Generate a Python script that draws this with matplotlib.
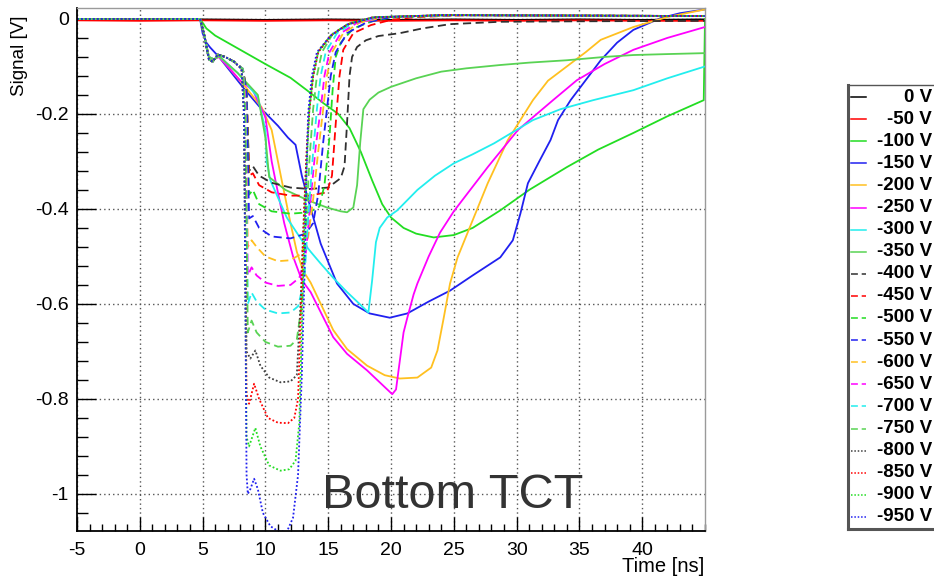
import matplotlib
matplotlib.use("Agg")
import matplotlib.pyplot as plt
from matplotlib.ticker import MultipleLocator

plt.rcParams['font.family'] = ['Liberation Sans', 'DejaVu Sans']
plt.rcParams['axes.unicode_minus'] = False

W, H = 934, 580

# Bias voltages and their line styles
labels = ["0 V", "-50 V", "-100 V", "-150 V", "-200 V", "-250 V", "-300 V", "-350 V",
          "-400 V", "-450 V", "-500 V", "-550 V", "-600 V", "-650 V", "-700 V", "-750 V",
          "-800 V", "-850 V", "-900 V", "-950 V"]
colors = ["#000000", "#ff0000", "#22dd22", "#2020f0", "#ffc020", "#ff00ff", "#22eeee", "#59d354",
          "#303030", "#ff0000", "#22dd22", "#2020f0", "#ffc020", "#ff00ff", "#22eeee", "#59d354",
          "#404040", "#ff0000", "#22dd22", "#2020f0"]
styles = ["solid"] * 8 + ["dashed"] * 8 + ["dotted"] * 4

# Waveforms: (time [ns], signal [V])
w_0 = [(-5, -0.001), (0, -0.002), (5, -0.001), (10, -0.002), (15, -0.001), (20, -0.002),
       (25, -0.001), (30, -0.002), (35, -0.001), (40, -0.002), (45, -0.001)]
w_50 = [(-5, -0.003), (0, -0.004), (5, -0.003), (10, -0.004), (15, -0.003), (20, -0.004),
        (25, -0.003), (30, -0.004), (35, -0.003), (40, -0.004), (45, -0.004)]
w_100 = [(-5, 0.0), (4.8, 0.0), (5.3, -0.02), (6, -0.035), (8, -0.065), (10, -0.095), (12, -0.124),
         (13.3, -0.15), (14.6, -0.177), (15.8, -0.2), (16.7, -0.23), (17.6, -0.28), (18.5, -0.34),
         (19.3, -0.39), (20, -0.418), (21, -0.44), (22, -0.452), (23.4, -0.46), (25, -0.455),
         (26.5, -0.44), (28.7, -0.403), (31, -0.36), (34, -0.312), (36.5, -0.275), (39.3, -0.24),
         (42, -0.205), (44.9, -0.171), (45, 0.0)]
w_150 = [(-5, 0.0), (4.8, 0.0), (5.0, -0.03), (5.3, -0.05), (5.6, -0.06), (6.3, -0.08), (7.2, -0.11),
         (8.4, -0.15), (9.7, -0.19), (11, -0.225), (11.8, -0.25), (12.4, -0.265), (12.9, -0.33),
         (13.3, -0.37), (14.4, -0.473), (15.7, -0.557), (17, -0.6), (18.3, -0.62), (19.9, -0.629),
         (21.3, -0.62), (23, -0.595), (24.7, -0.572), (26.5, -0.54), (28.7, -0.502), (29.7, -0.466),
         (30.3, -0.41), (30.9, -0.346), (31.8, -0.3), (32.7, -0.255), (33.3, -0.213), (34.3, -0.171),
         (36.7, -0.087), (38, -0.05), (39.3, -0.023), (41.5, 0.002), (43, 0.012), (45, 0.02)]
w_200 = [(-5, 0.0), (4.8, 0.0), (5.1, -0.03), (5.5, -0.08), (5.9, -0.085), (6.3, -0.08), (7, -0.1),
         (8.4, -0.143), (9.7, -0.186), (10.5, -0.234), (11, -0.3), (11.3, -0.34), (12, -0.43),
         (12.5, -0.49), (13, -0.53), (13.6, -0.555), (15.4, -0.655), (16.5, -0.695), (18.1, -0.73),
         (19.5, -0.75), (20.7, -0.757), (22.1, -0.755), (23.2, -0.734), (23.7, -0.698), (24.2, -0.629),
         (24.7, -0.557), (25.3, -0.502), (26.1, -0.45), (27.7, -0.346), (29.3, -0.255), (31.3, -0.171),
         (32.5, -0.13), (34, -0.1), (35.5, -0.07), (36.7, -0.044), (39.3, -0.017), (42, 0.004),
         (45, 0.02)]
w_250 = [(-5, 0.0), (4.8, 0.0), (5.1, -0.03), (5.5, -0.08), (5.9, -0.085), (6.3, -0.08), (7, -0.1),
         (8, -0.13), (9, -0.15), (10, -0.207), (10.5, -0.3), (10.8, -0.34), (11.5, -0.43),
         (12.2, -0.5), (12.9, -0.55), (13.6, -0.575), (15.4, -0.67), (16.5, -0.705), (18.1, -0.74),
         (19.5, -0.775), (20.1, -0.79), (20.4, -0.78), (20.7, -0.72), (21.0, -0.66), (21.3, -0.629),
         (21.8, -0.58), (22.1, -0.557), (23, -0.5), (23.9, -0.45), (25, -0.405), (26.1, -0.367),
         (27.7, -0.312), (30.1, -0.234), (32.9, -0.171), (34.8, -0.129), (37, -0.095), (39.3, -0.065),
         (42, -0.04), (45, -0.017)]
w_300 = [(-5, 0.0), (4.8, 0.0), (5.1, -0.03), (5.5, -0.08), (5.9, -0.085), (6.3, -0.078), (7, -0.095),
         (7.8, -0.114), (9.4, -0.165), (10, -0.234), (10.1, -0.3), (10.4, -0.34), (11.7, -0.418),
         (13, -0.47), (13.6, -0.49), (14.4, -0.515), (15.4, -0.545), (16.5, -0.575), (17.5, -0.6),
         (18.2, -0.618), (18.5, -0.55), (18.8, -0.47), (19.1, -0.44), (19.7, -0.418), (20.5, -0.403),
         (22.1, -0.36), (23.5, -0.33), (25, -0.304), (26.5, -0.285), (28.2, -0.262), (31.3, -0.213),
         (33.5, -0.19), (36.1, -0.171), (39.3, -0.15), (42, -0.125), (45, -0.1)]
w_350 = [(-5, 0.0), (4.8, 0.0), (5.1, -0.03), (5.5, -0.08), (5.9, -0.085), (6.3, -0.078), (7, -0.095),
         (7.8, -0.114), (9.4, -0.16), (10.0, -0.25), (10.3, -0.333), (11.6, -0.36), (13.4, -0.382),
         (14.9, -0.397), (16, -0.405), (16.5, -0.407), (17, -0.397), (17.3, -0.35), (17.55, -0.26),
         (17.8, -0.19), (18.3, -0.17), (19, -0.155), (20, -0.143), (22, -0.125), (24, -0.111),
         (26, -0.104), (28.7, -0.097), (31, -0.092), (34, -0.087), (37, -0.08), (39.3, -0.076),
         (42, -0.074), (45, -0.072)]
w_400 = [(-5, 0.0), (4.8, 0.0), (5.1, -0.03), (5.5, -0.085), (5.8, -0.09), (6.2, -0.075), (6.8, -0.08),
         (7.5, -0.09), (8.2, -0.105), (8.5, -0.15), (8.7, -0.32), (9.0, -0.31), (9.5, -0.33),
         (10.5, -0.345), (12, -0.355), (13.5, -0.358), (15, -0.355), (16.0, -0.335), (16.3, -0.31),
         (16.5, -0.22), (16.7, -0.12), (16.9, -0.08), (17.3, -0.059), (18, -0.045), (19, -0.036),
         (20.7, -0.03), (22.5, -0.02), (24.7, -0.011), (28.7, -0.006), (35, -0.005), (45, -0.004)]
w_450 = [(-5, 0.0), (4.8, 0.0), (5.1, -0.03), (5.5, -0.085), (5.8, -0.09), (6.2, -0.075), (6.8, -0.08),
         (7.5, -0.09), (8.2, -0.105), (8.5, -0.15), (8.7, -0.33), (9.0, -0.325), (9.5, -0.35),
         (10.5, -0.365), (12, -0.372), (13.5, -0.372), (14.9, -0.365), (15.3, -0.33), (15.6, -0.22),
         (15.9, -0.12), (16.2, -0.065), (17, -0.03), (18.4, -0.013), (20, -0.002), (22, 0.004),
         (26, 0.008), (35, 0.007), (45, 0.006)]
w_500 = [(-5, 0.0), (4.8, 0.0), (5.1, -0.03), (5.5, -0.085), (5.8, -0.09), (6.2, -0.075), (6.8, -0.08),
         (7.5, -0.09), (8.2, -0.105), (8.5, -0.15), (8.7, -0.37), (9.0, -0.36), (9.5, -0.39),
         (10.5, -0.405), (12, -0.41), (13.5, -0.407), (14.3, -0.395), (14.7, -0.35), (15.1, -0.25),
         (15.35, -0.15), (15.6, -0.08), (16, -0.05), (17, -0.02), (18.5, -0.005), (20, 0.003),
         (25, 0.008), (35, 0.007), (45, 0.006)]
w_550 = [(-5, 0.0), (4.8, 0.0), (5.1, -0.03), (5.5, -0.085), (5.8, -0.09), (6.2, -0.075), (6.8, -0.08),
         (7.5, -0.09), (8.2, -0.105), (8.5, -0.16), (8.7, -0.42), (9.0, -0.415), (9.5, -0.44),
         (10.5, -0.458), (12, -0.462), (13.2, -0.452), (13.8, -0.43), (14.2, -0.37), (14.6, -0.26),
         (14.9, -0.19), (15.2, -0.12), (15.6, -0.07), (16.5, -0.03), (18, -0.008), (20, 0.004),
         (25, 0.008), (35, 0.007), (45, 0.006)]
w_600 = [(-5, 0.0), (4.8, 0.0), (5.1, -0.03), (5.5, -0.085), (5.8, -0.09), (6.2, -0.075), (6.8, -0.08),
         (7.5, -0.09), (8.2, -0.105), (8.4, -0.17), (8.6, -0.48), (8.9, -0.466), (9.3, -0.48),
         (10, -0.5), (11, -0.51), (12, -0.508), (12.8, -0.495), (13.4, -0.46), (13.8, -0.38),
         (14.2, -0.28), (14.6, -0.19), (14.9, -0.12), (15.3, -0.07), (16.2, -0.03), (17.5, -0.008),
         (19.5, 0.004), (25, 0.008), (35, 0.007), (45, 0.006)]
w_650 = [(-5, 0.0), (4.8, 0.0), (5.1, -0.03), (5.5, -0.085), (5.8, -0.09), (6.2, -0.075), (6.8, -0.08),
         (7.5, -0.09), (8.2, -0.105), (8.4, -0.18), (8.6, -0.54), (8.9, -0.523), (9.3, -0.54),
         (10, -0.555), (11, -0.562), (12, -0.56), (12.7, -0.545), (13.2, -0.5), (13.6, -0.38),
         (14.0, -0.27), (14.4, -0.19), (14.7, -0.12), (15.1, -0.07), (16, -0.03), (17.3, -0.008),
         (19.3, 0.004), (25, 0.008), (35, 0.007), (45, 0.006)]
w_700 = [(-5, 0.0), (4.8, 0.0), (5.1, -0.03), (5.5, -0.085), (5.8, -0.09), (6.2, -0.075), (6.8, -0.08),
         (7.5, -0.09), (8.2, -0.105), (8.4, -0.2), (8.6, -0.6), (8.9, -0.576), (9.3, -0.595),
         (10, -0.612), (11, -0.62), (12, -0.618), (12.6, -0.605), (13.1, -0.55), (13.4, -0.42),
         (13.8, -0.28), (14.1, -0.19), (14.4, -0.12), (14.8, -0.07), (15.7, -0.03), (17, -0.008),
         (19, 0.004), (25, 0.008), (35, 0.007), (45, 0.006)]
w_750 = [(-5, 0.0), (4.8, 0.0), (5.1, -0.03), (5.5, -0.085), (5.8, -0.09), (6.2, -0.075), (6.8, -0.08),
         (7.5, -0.09), (8.2, -0.105), (8.4, -0.2), (8.6, -0.66), (8.9, -0.635), (9.3, -0.66),
         (10, -0.68), (11, -0.69), (12, -0.688), (12.5, -0.675), (12.9, -0.6), (13.2, -0.45),
         (13.5, -0.3), (13.8, -0.19), (14.1, -0.12), (14.5, -0.07), (15.4, -0.03), (16.8, -0.008),
         (18.8, 0.004), (25, 0.008), (35, 0.007), (45, 0.006)]
w_800 = [(-5, 0.0), (4.8, 0.0), (5.1, -0.03), (5.5, -0.085), (5.8, -0.09), (6.2, -0.075), (6.8, -0.08),
         (7.5, -0.09), (8.1, -0.105), (8.3, -0.2), (8.5, -0.7), (8.8, -0.715), (9.2, -0.698),
         (9.6, -0.73), (10.3, -0.755), (11.2, -0.765), (12, -0.763), (12.5, -0.75), (12.8, -0.6),
         (13.0, -0.45), (13.25, -0.3), (13.5, -0.19), (13.8, -0.12), (14.2, -0.07), (15.2, -0.035),
         (16.5, -0.012), (18.5, 0.003), (24, 0.008), (35, 0.007), (45, 0.006)]
w_850 = [(-5, 0.0), (4.8, 0.0), (5.1, -0.03), (5.5, -0.085), (5.8, -0.09), (6.2, -0.075), (6.8, -0.08),
         (7.5, -0.09), (8.1, -0.105), (8.3, -0.2), (8.5, -0.79), (8.7, -0.81), (9.1, -0.768),
         (9.5, -0.8), (10.2, -0.84), (11, -0.85), (11.8, -0.851), (12.3, -0.84), (12.6, -0.8),
         (12.85, -0.6), (13.1, -0.4), (13.3, -0.27), (13.5, -0.19), (13.8, -0.12), (14.2, -0.07),
         (15.2, -0.035), (16.5, -0.012), (18.5, 0.003), (24, 0.008), (35, 0.007), (45, 0.006)]
w_900 = [(-5, 0.0), (4.8, 0.0), (5.1, -0.03), (5.5, -0.085), (5.8, -0.09), (6.2, -0.075), (6.8, -0.08),
         (7.5, -0.09), (8.1, -0.105), (8.3, -0.2), (8.5, -0.88), (8.7, -0.9), (9.2, -0.861),
         (9.6, -0.9), (10.3, -0.94), (11.2, -0.951), (11.9, -0.948), (12.4, -0.93), (12.7, -0.85),
         (12.9, -0.65), (13.1, -0.45), (13.3, -0.3), (13.5, -0.19), (13.8, -0.12), (14.2, -0.07),
         (15.2, -0.035), (16.5, -0.012), (18.5, 0.003), (24, 0.008), (35, 0.007), (45, 0.006)]
w_950 = [(-5, 0.0), (4.8, 0.0), (5.1, -0.03), (5.5, -0.085), (5.8, -0.09), (6.2, -0.075), (6.8, -0.08),
         (7.5, -0.09), (8.1, -0.105), (8.3, -0.2), (8.5, -0.96), (8.6, -1.0), (8.8, -0.99),
         (9.1, -0.968), (9.4, -0.99), (9.8, -1.04), (10.4, -1.068), (11, -1.078), (11.7, -1.08),
         (12.2, -1.05), (12.6, -0.96), (12.9, -0.75), (13.1, -0.55), (13.25, -0.35), (13.4, -0.2),
         (13.7, -0.12), (14.1, -0.07), (15.2, -0.035), (16.5, -0.012), (18.5, 0.003), (24, 0.008),
         (35, 0.007), (45, 0.006)]

waveforms = [w_0, w_50, w_100, w_150, w_200, w_250, w_300, w_350,
             w_400, w_450, w_500, w_550, w_600, w_650, w_700, w_750,
             w_800, w_850, w_900, w_950]

x_ticks = [-5, 0, 5, 10, 15, 20, 25, 30, 35, 40]
y_ticks = [0, -0.2, -0.4, -0.6, -0.8, -1]

dash = {"solid": "-", "dashed": (0, (4.5, 2.5)), "dotted": (0, (1.0, 1.2))}

fig = plt.figure(figsize=(W / 100, H / 100), dpi=100)
ax = fig.add_axes([77 / W, (H - 531) / H, (705 - 77) / W, (531 - 8) / H])

for w, c, s in zip(waveforms, colors, styles):
    t = [p[0] for p in w]
    v = [p[1] for p in w]
    ax.plot(t, v, color=c, linestyle=dash[s], linewidth=1.3)

ax.set_xlim(-5, 45)
ax.set_ylim(-1.078, 0.023)
ax.set_xticks(x_ticks)
ax.set_xticklabels([str(x) for x in x_ticks])
ax.set_yticks(y_ticks)
ax.set_yticklabels(["0", "-0.2", "-0.4", "-0.6", "-0.8", "-1"])
ax.xaxis.set_minor_locator(MultipleLocator(1))
ax.yaxis.set_minor_locator(MultipleLocator(0.04))
ax.tick_params(axis='both', which='both', direction='in', top=False, right=False, colors='black',
               labelsize=14)
ax.tick_params(axis='x', which='major', length=10, width=1, pad=8)
ax.tick_params(axis='x', which='minor', length=5, width=1)
ax.tick_params(axis='y', which='major', length=14, width=1, pad=6)
ax.tick_params(axis='y', which='minor', length=8, width=1)
ax.grid(True, which='major', color='#555555', linestyle=(0, (1, 2.2)), linewidth=1)
ax.set_axisbelow(True)
for side in ("left", "bottom"):
    ax.spines[side].set_color("black")
    ax.spines[side].set_linewidth(1.3)
for side in ("top", "right"):
    ax.spines[side].set_color("#9a9a9a")
    ax.spines[side].set_linewidth(1.0)

fig.text(20 / W, 1 - 15 / H, "Signal [V]", rotation=90, ha='center', va='top', fontsize=13.5)
fig.text(704 / W, 1 - 567 / H, "Time [ns]", ha='right', va='center', fontsize=14.5)
fig.text(322 / W, 1 - 508 / H, "Bottom TCT", ha='left', va='baseline', fontsize=35,
         color='#333333')

# Legend box drawn on its own axes, running off the right edge of the canvas
leg = fig.add_axes([848 / W, (H - 529) / H, 120 / W, 444 / H])
leg.set_xlim(0, 120)
leg.set_ylim(0, 444)
leg.set_xticks([])
leg.set_yticks([])
leg.spines["right"].set_visible(False)
leg.spines["left"].set_linewidth(2.2)
leg.spines["bottom"].set_linewidth(2.2)
leg.spines["top"].set_linewidth(1.0)
for side in ("left", "bottom", "top"):
    leg.spines[side].set_color("#555555")
for i, (lab, c, s) in enumerate(zip(labels, colors, styles)):
    y = 432 - 22.1 * i
    leg.plot([3, 18], [y, y], color=c, linestyle=dash[s], linewidth=1.1)
    leg.text(84, y, lab, ha='right', va='center', fontsize=13.5, fontweight='bold')

fig.savefig("out.png", dpi=100)
